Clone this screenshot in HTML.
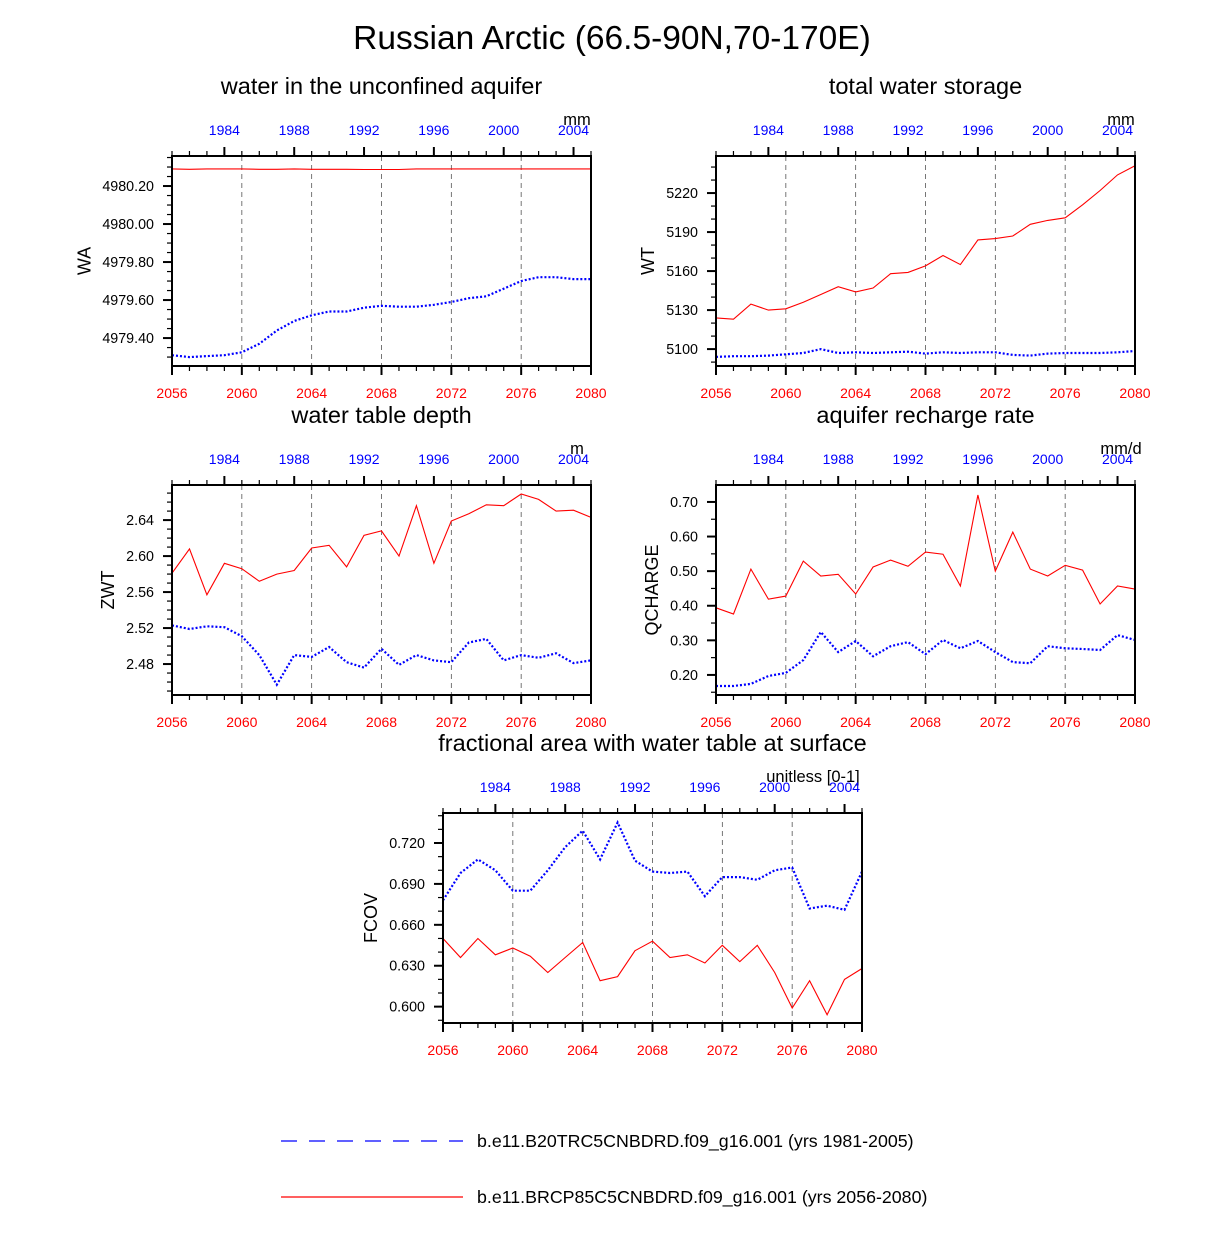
<!DOCTYPE html>
<html><head><meta charset="utf-8"><style>
body{margin:0;background:#fff;}
svg text{font-family:"Liberation Sans",Arial,sans-serif;}
</style></head><body>
<svg id="c" width="1224" height="1232" xmlns="http://www.w3.org/2000/svg">
<text x="612" y="49" font-size="33.5" text-anchor="middle">Russian Arctic (66.5-90N,70-170E)</text>
<g>
<line x1="281" y1="1141" x2="463" y2="1141" stroke="#00f" stroke-width="1.2" stroke-dasharray="16,12"/>
<text x="477" y="1147" font-size="17.8">b.e11.B20TRC5CNBDRD.f09_g16.001 (yrs 1981-2005)</text>
<line x1="281" y1="1197" x2="463" y2="1197" stroke="#f00" stroke-width="1.2"/>
<text x="477" y="1203" font-size="17.8">b.e11.BRCP85C5CNBDRD.f09_g16.001 (yrs 2056-2080)</text>
</g>
</svg>
<script>
const years = [2056,2057,2058,2059,2060,2061,2062,2063,2064,2065,2066,2067,2068,2069,2070,2071,2072,2073,2074,2075,2076,2077,2078,2079,2080];
const waRed = [4980.29,4980.288,4980.29,4980.29,4980.29,4980.288,4980.288,4980.29,4980.288,4980.288,4980.288,4980.287,4980.287,4980.287,4980.29,4980.29,4980.29,4980.29,4980.29,4980.29,4980.29,4980.29,4980.29,4980.29,4980.29];
const waBlue = [4979.31,4979.30,4979.305,4979.31,4979.325,4979.37,4979.44,4979.49,4979.52,4979.54,4979.54,4979.56,4979.57,4979.565,4979.565,4979.575,4979.59,4979.61,4979.62,4979.66,4979.70,4979.72,4979.72,4979.71,4979.71];
const wtRed = [5124,5123,5134.6,5130,5131,5136,5142,5148,5144,5147,5158,5159,5164,5172,5165,5184,5185,5187,5196,5199,5201,5211,5222,5234,5241];
const wtBlue = [5094,5094.5,5094.5,5095,5096,5097,5100,5097,5097.5,5097,5097.5,5098,5096.5,5097.5,5097,5097.5,5097.5,5095.5,5095,5096.5,5097,5097,5097,5097.5,5098.5];
const zwtRed = [2.581,2.608,2.557,2.592,2.586,2.572,2.580,2.584,2.609,2.612,2.588,2.623,2.628,2.600,2.656,2.592,2.639,2.647,2.657,2.656,2.669,2.663,2.650,2.651,2.643];
const zwtBlue = [2.523,2.519,2.522,2.521,2.511,2.490,2.457,2.490,2.488,2.499,2.482,2.476,2.497,2.479,2.490,2.484,2.482,2.504,2.508,2.484,2.490,2.487,2.492,2.481,2.484];
const qRed = [0.394,0.376,0.506,0.419,0.428,0.529,0.486,0.491,0.434,0.512,0.532,0.514,0.555,0.549,0.457,0.720,0.500,0.613,0.506,0.486,0.517,0.503,0.405,0.457,0.448];
const qBlue = [0.168,0.168,0.174,0.197,0.206,0.243,0.324,0.266,0.298,0.254,0.283,0.295,0.260,0.301,0.277,0.298,0.266,0.237,0.234,0.283,0.277,0.275,0.272,0.315,0.301];
const fRed = [0.650,0.636,0.650,0.638,0.643,0.637,0.625,0.636,0.647,0.619,0.622,0.641,0.648,0.636,0.638,0.632,0.645,0.633,0.645,0.625,0.599,0.619,0.594,0.620,0.628];
const fBlue = [0.678,0.698,0.708,0.700,0.685,0.685,0.700,0.717,0.729,0.708,0.735,0.707,0.699,0.698,0.699,0.681,0.695,0.695,0.693,0.700,0.702,0.672,0.674,0.671,0.699];
const topYears = [1984,1988,1992,1996,2000,2004];
const bottomYears = [2056,2060,2064,2068,2072,2076,2080];

const NS='http://www.w3.org/2000/svg';
const svg=document.getElementById('c');
function mk(tag,attrs,parent){const e=document.createElementNS(NS,tag);for(const k in attrs)e.setAttribute(k,attrs[k]);(parent||svg).appendChild(e);return e;}

function panel(p){
  const g=mk('g',{});
  
  
  const L=p.x,T=p.y,W=419,H=210;
  const xs=v=>L+(v-2056)/24*W;
  const ys=v=>T+H-(v-p.ymin)/(p.ymax-p.ymin)*H;
  const t=mk('text',{x:L+W/2,y:T-62,'font-size':23.5,'text-anchor':'middle'},g);t.textContent=p.title;
  
  
  const u=mk('text',{x:p.unitX||L+W-14,y:T-31,'font-size':16.5,'text-anchor':'middle'},g);u.textContent=p.unit;
  
  
  for(let yr=2060;yr<2080;yr+=4){
    const l=mk('line',{x1:xs(yr),x2:xs(yr),y1:T,y2:T+H,stroke:'#555','stroke-width':0.8,'stroke-dasharray':'5,4'},g);
    
    
  }
  for(let i=0;i<=24;i++){
    const x=xs(2056+i), maj=(i%4===0);
    mk('line',{x1:x,x2:x,y1:T+H,y2:T+H+(maj?9:5),stroke:'#000','stroke-width':maj?2:1.2},g);
    mk('line',{x1:x,x2:x,y1:T,y2:T-((i+1)%4===0?9:5),stroke:'#000','stroke-width':(i+1)%4===0?2:1.2},g);
  }
  bottomYears.forEach(yr=>{const e=mk('text',{x:xs(yr),y:T+H+32,'font-size':14,'text-anchor':'middle',fill:'#f00'},g);e.textContent=yr;
    
    });
  topYears.forEach(yr=>{const e=mk('text',{x:xs(yr-1981+2056),y:T-21,'font-size':14,'text-anchor':'middle',fill:'#00f'},g);e.textContent=yr;
    
    });
  const eps=1e-9;let minX=L;
  for(let v=Math.ceil((p.ymin)/p.minor-eps)*p.minor; v<=p.ymax+eps; v+=p.minor){
    const r=v/p.major, maj=Math.abs(r-Math.round(r))<1e-6;
    const y=ys(v);
    mk('line',{x1:L,x2:L-(maj?9:5),y1:y,y2:y,stroke:'#000','stroke-width':maj?2:1.2},g);
    if(maj){const e=mk('text',{x:L-18,y:y+5,'font-size':14.3,'text-anchor':'end'},g);e.textContent=v.toFixed(p.dec);
      
      
      try{minX=Math.min(minX,e.getBBox().x);}catch(_){}}
  }
  const yt=mk('text',{x:0,y:0,'font-size':18,'text-anchor':'middle',transform:`translate(${minX-12},${T+H/2}) rotate(-90)`},g);yt.textContent=p.ylabel;
  
  
  const pts=a=>a.map((v,i)=>xs(years[i]).toFixed(1)+','+ys(v).toFixed(1)).join(' ');
  const r=mk('polyline',{points:pts(p.red),fill:'none',stroke:'#f00','stroke-width':1.1},g);
  
  
  const b=mk('polyline',{points:pts(p.blue),fill:'none',stroke:'#00f','stroke-width':2.2,'stroke-dasharray':'2,2'},g);
  
  
  mk('rect',{x:L,y:T,width:W,height:H,fill:'none',stroke:'#000','stroke-width':2},g);
}
panel({name:'wa',x:172,y:156,title:'water in the unconfined aquifer',unit:'mm',ylabel:'WA',ymin:4979.253,ymax:4980.358,major:0.2,minor:0.05,dec:2,red:waRed,blue:waBlue});
panel({name:'wt',x:716,y:156,title:'total water storage',unit:'mm',ylabel:'WT',ymin:5087,ymax:5248.5,major:30,minor:10,dec:0,red:wtRed,blue:wtBlue});
panel({name:'zwt',x:172,y:485,title:'water table depth',unit:'m',ylabel:'ZWT',ymin:2.4456,ymax:2.679,major:0.04,minor:0.01,dec:2,red:zwtRed,blue:zwtBlue});
panel({name:'qcharge',x:716,y:485,title:'aquifer recharge rate',unit:'mm/d',ylabel:'QCHARGE',ymin:0.142,ymax:0.749,major:0.1,minor:0.05,dec:2,red:qRed,blue:qBlue});
panel({name:'fcov',x:443,y:813,title:'fractional area with water table at surface',unit:'unitless [0-1]',unitX:813,ylabel:'FCOV',ymin:0.588,ymax:0.742,major:0.03,minor:0.01,dec:3,red:fRed,blue:fBlue});
</script>
</body></html>
